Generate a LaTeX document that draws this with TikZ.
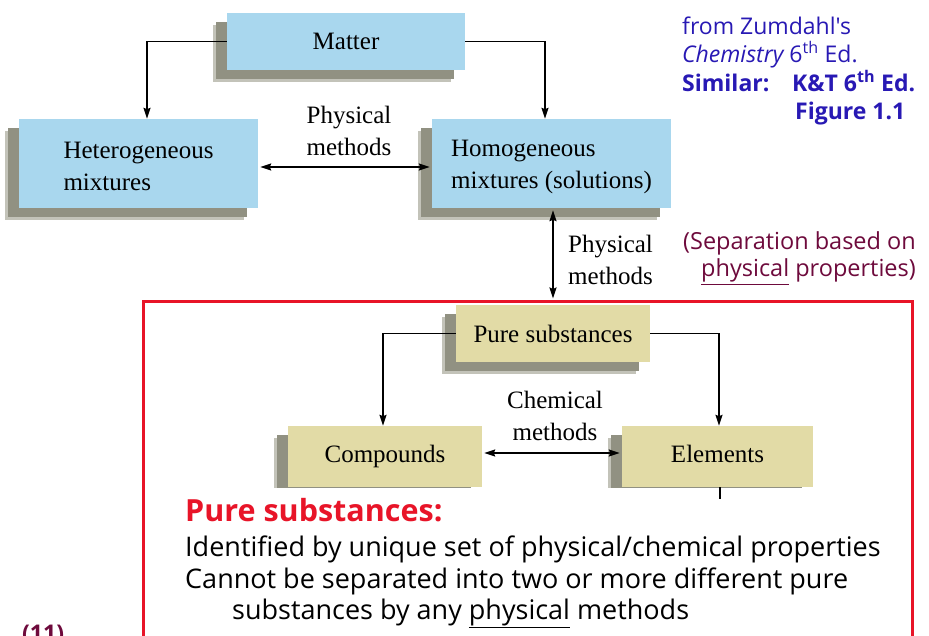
\documentclass[tikz,border=0pt]{standalone}
\usepackage{fontspec}
\setmainfont{Liberation Serif}
\newfontfamily\comic{Open Sans}
\usetikzlibrary{arrows.meta,calc,shadows}
\definecolor{boxblue}{RGB}{169,215,238}
\definecolor{boxtan}{RGB}{226,219,166}
\definecolor{shadowout}{RGB}{195,195,185}
\definecolor{shadowin}{RGB}{145,145,130}
\definecolor{framered}{RGB}{232,20,40}
\definecolor{noteblue}{RGB}{40,25,180}
\definecolor{maroon}{RGB}{110,10,60}
\begin{document}
\begin{tikzpicture}[x=1pt,y=-1pt,
  boxbase/.style={rectangle,inner sep=0pt,align=left,font=\fontsize{25}{32}\selectfont,
     general shadow={fill=shadowout,shadow xshift=-14pt,shadow yshift=-12pt},
     general shadow={fill=shadowin,shadow xshift=-11pt,shadow yshift=-9pt}},
  bluebox/.style={boxbase,fill=boxblue},
  tanbox/.style={boxbase,fill=boxtan},
  lbl/.style={inner sep=0pt,align=center,font=\fontsize{25}{32}\selectfont},
  conn/.style={line width=1.6pt,-{Stealth[length=11pt,width=7pt,inset=1.5pt]}},
  dconn/.style={line width=1.6pt,{Stealth[length=11pt,width=7pt,inset=1.5pt]}-{Stealth[length=11pt,width=7pt,inset=1.5pt]}},
  note/.style={inner sep=0pt,anchor=base west,text=noteblue,font=\comic\fontsize{23}{26}\selectfont},
  boldnote/.style={note,font=\comic\bfseries\fontsize{23}{26}\selectfont},
  sepnote/.style={inner sep=0pt,anchor=base east,text=maroon,font=\comic\fontsize{23.5}{26}\selectfont},
  body/.style={inner sep=0pt,anchor=base west,font=\comic\fontsize{27}{30}\selectfont}]
\useasboundingbox (0,0) rectangle (929,636);
\fill[white] (0,0) rectangle (929,636);

% top part
\node[bluebox,minimum width=238pt,minimum height=57pt] (matter) at (346,41.5) {Matter};
\node[bluebox,minimum width=239pt,minimum height=89pt] (het) at (138.5,163.5) {\rule{0pt}{23pt}Heterogeneous\\mixtures};
\node[bluebox,minimum width=239pt,minimum height=89pt] (hom) at (551.5,163.5) {\rule{0pt}{23pt}Homogeneous\\mixtures (solutions)};
\node[lbl] (pm1) at (349,131) {Physical\\methods};

\draw[conn] (matter.west) -| ($(het.north)+(8.5,0)$);
\draw[conn] (matter.east) -| ($(hom.north)+(-6.5,0)$);
\draw[dconn] ($(het.east)+(2,3.5)$) -- ($(hom.west)+(-2,3.5)$);

% red frame
\node[draw=framered,line width=3pt,minimum width=769pt,minimum height=348pt,inner sep=0pt] (frame) at (527.5,476) {};
\draw[dconn] ($(hom.south)+(1.5,2)$) -- ($(frame.north -| hom.south)+(1.5,-2)$);
\node[lbl,align=left,anchor=west] (pm2) at (568,259.5) {Physical\\methods};

% pure substances
\node[tanbox,minimum width=194pt,minimum height=57pt] (pure) at (553,333.5) {Pure substances};
\node[tanbox,minimum width=194pt,minimum height=61pt] (comp) at (385,456.5) {Compounds};
\node[tanbox,minimum width=191pt,minimum height=61pt] (elem) at (717.5,456.5) {Elements\vphantom{p}};
\node[lbl] (cm) at (555,416) {Chemical\\methods};

\draw[conn] (pure.west) -| ($(comp.north)+(-2,0)$);
\draw[conn] (pure.east) -| ($(elem.north)+(1.5,0)$);
\draw[dconn] ($(comp.east)+(2,-3.5)$) -- ($(elem.west)+(-2,-3.5)$);

% white cover of lower part
\fill[white] (150,488) rectangle (905,640);
\coordinate (stubend) at (720,499);
\draw[line width=1.2pt] (elem.south -| stubend) -- (stubend);

% text block
\node[body,text=framered,font=\comic\bfseries\fontsize{30.5}{34}\selectfont] (ps) at (185,521) {Pure substances:};
\node[body] (l1) at (185,556) {Identified by unique set of physical/chemical properties};
\node[body] (l2) at (185,588) {Cannot be separated into two or more different pure};
\node[body] (l3) at (232,619) {substances by any \underline{physical} methods};

% notes
\node[note] (n1) at (682,35) {from Zumdahl's};
\node[note] (n2) at (682,63) {\itshape Chemistry\upshape\ 6\textsuperscript{th} Ed.};
\node[boldnote] (n3) at (682,92) {\makebox[110pt][l]{Similar:}K\&T 6\textsuperscript{th} Ed.};
\node[boldnote] (n4) at (795,120) {Figure 1.1};
\node[sepnote] (s1) at (916,250) {(Separation based on};
\node[sepnote] (s2) at (916,277) {\underline{physical} properties)};

\node[inner sep=0pt,anchor=base west,text=maroon,font=\comic\bfseries\fontsize{23}{26}\selectfont] (num) at (22,641) {(11)};
\end{tikzpicture}
\end{document}
